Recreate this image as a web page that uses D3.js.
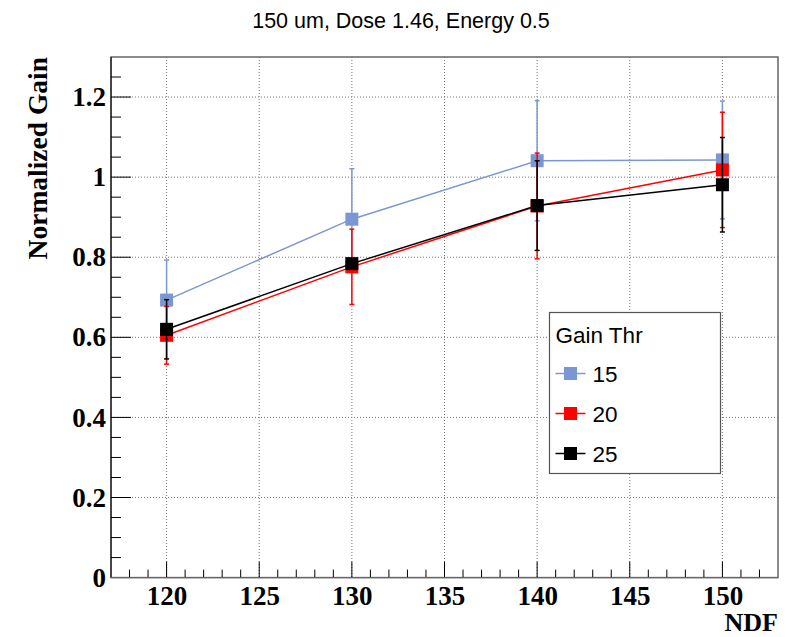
<!DOCTYPE html>
<html>
<head>
<meta charset="utf-8">
<script src="https://cdn.jsdelivr.net/npm/d3@7"></script>
<style>
body { margin: 0; background: #fff; }
</style>
</head>
<body>
<div id="chart"></div>
<script>
// data
var ndf = [120, 130, 140, 150];
var gain15 = [0.693, 0.895, 1.041, 1.043];
var err15 = [0.100, 0.126, 0.150, 0.147];
var gain20 = [0.605, 0.776, 0.928, 1.018];
var err20 = [0.072, 0.094, 0.132, 0.144];
var gain25 = [0.620, 0.784, 0.929, 0.981];
var err25 = [0.074, 0.012, 0.112, 0.118];
var seriesNames = ["15", "20", "25"];
var xTicks = [120, 125, 130, 135, 140, 145, 150];
var yTicks = [0, 0.2, 0.4, 0.6, 0.8, 1, 1.2];

var W = 802, H = 637;
var fLeft = 111, fRight = 778, fTop = 57, fBottom = 577.6;
var serif = "Liberation Serif, Times New Roman, serif";
var sans = "Liberation Sans, Arial, sans-serif";

var svg = d3.select("#chart").append("svg").attr("width", W).attr("height", H);

var x = d3.scaleLinear().domain([117, 153]).range([fLeft, fRight]);
var y = d3.scaleLinear().domain([0, 1.3]).range([fBottom, fTop]);

// grid
var grid = svg.append("g").attr("stroke", "#777").attr("stroke-width", 1).attr("stroke-dasharray", "1,2");
grid.selectAll("line.gx").data(xTicks).enter().append("line")
    .attr("x1", d => x(d)).attr("x2", d => x(d)).attr("y1", fTop).attr("y2", fBottom);
grid.selectAll("line.gy").data(yTicks.slice(1)).enter().append("line")
    .attr("y1", d => y(d)).attr("y2", d => y(d)).attr("x1", fLeft).attr("x2", fRight);

// frame
svg.append("rect").attr("x", fLeft).attr("y", fTop).attr("width", fRight - fLeft).attr("height", fBottom - fTop)
    .attr("fill", "none").attr("stroke", "#666").attr("stroke-width", 1.5);

// axes, ROOT style ticks drawn by hand below
var xAxis = d3.axisBottom(x).tickValues(xTicks).tickSize(0).tickPadding(8).tickFormat(d3.format("d"));
var gx = svg.append("g").attr("transform", "translate(0," + fBottom + ")").call(xAxis);
gx.select(".domain").remove();
gx.selectAll("text").attr("font-family", serif)
    .attr("font-weight", "bold").attr("font-size", 27).attr("fill", "#000");

var yAxis = d3.axisLeft(y).tickValues(yTicks).tickSize(0).tickPadding(5).tickFormat(d => d === 0 ? "0" : d3.format("")(d));
var gy = svg.append("g").attr("transform", "translate(" + fLeft + ",0)").call(yAxis);
gy.select(".domain").remove();
gy.selectAll("text").attr("font-family", serif)
    .attr("font-weight", "bold").attr("font-size", 27).attr("fill", "#000");

var ticks = svg.append("g").attr("stroke", "#000").attr("stroke-width", 1);
var xMinor = d3.range(118, 153, 1);
ticks.selectAll("line.tx").data(xMinor).enter().append("line")
    .attr("x1", d => x(d)).attr("x2", d => x(d))
    .attr("y1", fBottom).attr("y2", d => fBottom - (d % 5 === 0 ? 16 : 8));
var yMinor = d3.range(0.05, 1.3, 0.05);
ticks.selectAll("line.ty").data(yMinor).enter().append("line")
    .attr("y1", d => y(d)).attr("y2", d => y(d))
    .attr("x1", fLeft).attr("x2", d => fLeft + (Math.abs(d * 5 - Math.round(d * 5)) < 1e-6 ? 20 : 10));
ticks.append("line").attr("x1", fLeft).attr("x2", fLeft).attr("y1", fTop).attr("y2", fBottom);
ticks.append("line").attr("x1", fLeft).attr("x2", fRight).attr("y1", fBottom).attr("y2", fBottom).attr("stroke", "#666");

// series
var series = [
    {name: seriesNames[0], vals: gain15, errs: err15, color: "#7b97d3"},
    {name: seriesNames[1], vals: gain20, errs: err20, color: "#ff0000"},
    {name: seriesNames[2], vals: gain25, errs: err25, color: "#000000"}
];

var line = d3.line().x(d => x(d.x)).y(d => y(d.y));
var ms = 13;

series.forEach(function (s) {
    var pts = ndf.map((n, i) => ({x: n, y: s.vals[i], e: s.errs[i]}));
    var g = svg.append("g");
    g.append("path").datum(pts).attr("d", line).attr("fill", "none")
        .attr("stroke", s.color).attr("stroke-width", 1.5);
    g.selectAll("line.err").data(pts).enter().append("line")
        .attr("x1", d => x(d.x)).attr("x2", d => x(d.x))
        .attr("y1", d => y(d.y - d.e)).attr("y2", d => y(d.y + d.e))
        .attr("stroke", s.color).attr("stroke-width", 1.5);
    [-1, 1].forEach(function (sg) {
        g.selectAll("line.cap" + sg).data(pts).enter().append("line")
            .attr("x1", d => x(d.x) - 2.5).attr("x2", d => x(d.x) + 2.5)
            .attr("y1", d => y(d.y + sg * d.e)).attr("y2", d => y(d.y + sg * d.e))
            .attr("stroke", s.color).attr("stroke-width", 1.5);
    });
    g.selectAll("rect").data(pts).enter().append("rect")
        .attr("x", d => x(d.x) - ms / 2).attr("y", d => y(d.y) - ms / 2)
        .attr("width", ms).attr("height", ms).attr("fill", s.color);
});

// title and axis labels
svg.append("text").attr("x", 401).attr("y", 28).attr("text-anchor", "middle")
    .attr("font-family", sans).attr("font-size", 21.5)
    .text("150 um, Dose 1.46, Energy 0.5");

svg.append("text").attr("transform", "translate(47," + fTop + ") rotate(-90)")
    .attr("text-anchor", "end")
    .attr("font-family", serif).attr("font-weight", "bold")
    .attr("font-size", 27.5).text("Normalized Gain");

svg.append("text").attr("x", fRight).attr("y", 631).attr("text-anchor", "end")
    .attr("font-family", serif).attr("font-weight", "bold")
    .attr("font-size", 26).text("NDF");

// legend
var lg = svg.append("g").attr("transform", "translate(549.5,312.5)");
lg.append("rect").attr("width", 171).attr("height", 161).attr("fill", "#fff")
    .attr("stroke", "#555").attr("stroke-width", 1.2);
lg.append("text").attr("x", 6).attr("y", 30)
    .attr("font-family", sans).attr("font-size", 22.5).text("Gain Thr");
series.forEach(function (s, i) {
    var cy = 61 + i * 40;
    lg.append("line").attr("x1", 6).attr("x2", 36).attr("y1", cy).attr("y2", cy)
        .attr("stroke", s.color).attr("stroke-width", 1.5);
    lg.append("rect").attr("x", 21 - 6.5).attr("y", cy - 6.5).attr("width", 13).attr("height", 13).attr("fill", s.color);
    lg.append("text").attr("x", 43).attr("y", cy + 8.5)
        .attr("font-family", sans).attr("font-size", 22.5).text(s.name);
});
</script>
</body>
</html>
